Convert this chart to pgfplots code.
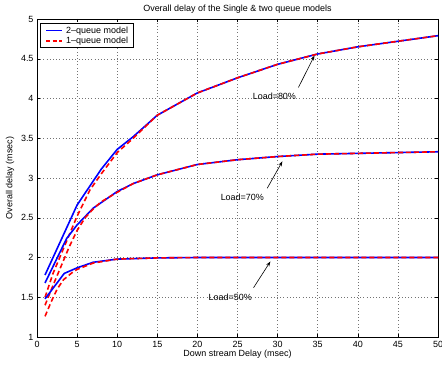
\documentclass[border=0pt]{standalone}
\usepackage{fontspec}
\setmainfont{Liberation Sans}
\usepackage{pgfplots}
\pgfplotsset{compat=1.18}
\usetikzlibrary{arrows.meta}
\begin{document}
\begin{tikzpicture}[font=\fontsize{9}{10.5}\selectfont]
\begin{axis}[
  scale only axis,
  width=401bp, height=318bp,
  xmin=0, xmax=50, ymin=1, ymax=5,
  xtick={0,5,...,50}, ytick={1,1.5,...,5},
  /pgf/number format/assume math mode=true,
  tick align=inside,
  major tick length=3bp,
  tick style={black, line width=0.5bp},
  axis line style={black, line width=0.6bp},
  grid=major,
  major grid style={black!55, line width=0.5bp, dash pattern=on 0.6bp off 2.6bp},
  xlabel={Down stream Delay (msec)},
  xlabel style={at={(axis description cs:0.5,-0.0535)}, anchor=center, inner sep=0pt},
  ylabel={Overall delay (msec)},
  ylabel style={at={(axis description cs:-0.067,0.5)}, anchor=center, inner sep=0pt},
  xticklabel style={yshift=-1bp},
]
\addplot[blue, line width=1.6bp] coordinates {
 (1,1.78) (3,2.22) (5,2.66) (8,3.11) (10,3.36) (12,3.52) (15,3.79) (20,4.07)
 (25,4.26) (30,4.43) (35,4.56) (40,4.65) (45,4.72) (50,4.79)};
\addplot[red, line width=1.6bp, dash pattern=on 5bp off 3bp] coordinates {
 (1,1.50) (2,1.80) (3,2.04) (4,2.28) (5,2.52) (6.6,2.85) (8,3.05) (10,3.32)
 (12,3.50) (15,3.79) (20,4.07) (25,4.26) (30,4.43) (35,4.56) (40,4.65) (45,4.72) (50,4.79)};
\addplot[blue, line width=1.6bp] coordinates {
 (1,1.68) (3.7,2.24) (5,2.41) (7,2.62) (10,2.83) (12,2.93) (15,3.04) (20,3.17)
 (25,3.23) (30,3.27) (35,3.30) (40,3.31) (45,3.32) (50,3.33)};
\addplot[red, line width=1.6bp, dash pattern=on 5bp off 3bp] coordinates {
 (1,1.40) (2,1.65) (3,1.89) (4,2.13) (5,2.34) (6,2.50) (7,2.61) (8,2.70) (10,2.82)
 (12,2.93) (15,3.04) (20,3.17) (25,3.23) (30,3.27) (35,3.30) (40,3.31) (45,3.32) (50,3.33)};
\addplot[blue, line width=1.6bp] coordinates {
 (1,1.48) (3.4,1.80) (5,1.87) (7,1.94) (10,1.98) (15,1.995) (20,2.0) (30,2.0) (40,2.0) (50,2.0)};
\addplot[red, line width=1.6bp, dash pattern=on 5bp off 3bp] coordinates {
 (1,1.26) (1.8,1.45) (2.5,1.60) (3.3,1.72) (4.5,1.82) (5,1.85) (7,1.93) (10,1.98)
 (15,1.995) (20,2.0) (30,2.0) (40,2.0) (50,2.0)};
\draw[-{Stealth[length=5bp,width=3.5bp]}, line width=0.6bp] (axis cs:32.6,4.14) -- (axis cs:34.6,4.54);
\node at (axis cs:29.6,4.03) {Load=80\%};
\draw[-{Stealth[length=5bp,width=3.5bp]}, line width=0.6bp] (axis cs:28.7,2.87) -- (axis cs:30.6,3.21);
\node at (axis cs:25.6,2.76) {Load=70\%};
\draw[-{Stealth[length=5bp,width=3.5bp]}, line width=0.6bp] (axis cs:27.0,1.62) -- (axis cs:29.1,1.95);
\node at (axis cs:24.1,1.50) {Load=50\%};
\end{axis}
\node[anchor=center, inner sep=0pt] at ([yshift=10bp]current axis.north) {Overall delay of the Single \& two queue models};
% legend
\coordinate (NW) at (current axis.north west);
\fill[white] ([shift={(3.7bp,-4.7bp)}]NW) rectangle ([shift={(96.3bp,-28bp)}]NW);
\draw[black, line width=0.8bp] ([shift={(3.7bp,-4.7bp)}]NW) rectangle ([shift={(96.3bp,-28bp)}]NW);
\draw[red, line width=1.6bp, dash pattern=on 4bp off 2.5bp] ([shift={(9bp,-21.7bp)}]NW) -- ([shift={(24.7bp,-21.7bp)}]NW);
\draw[blue, line width=1.6bp] ([shift={(9bp,-11.7bp)}]NW) -- ([shift={(24.7bp,-11.7bp)}]NW);
\node[anchor=west, inner sep=0pt] at ([shift={(29bp,-11.7bp)}]NW) {2--queue model};
\node[anchor=west, inner sep=0pt] at ([shift={(29bp,-21.7bp)}]NW) {1--queue model};
\pgfresetboundingbox
\path[use as bounding box] (current axis.south west) ++(-37bp,-27bp) rectangle ([xshift=4bp,yshift=19bp]current axis.north east);
\end{tikzpicture}
\end{document}
